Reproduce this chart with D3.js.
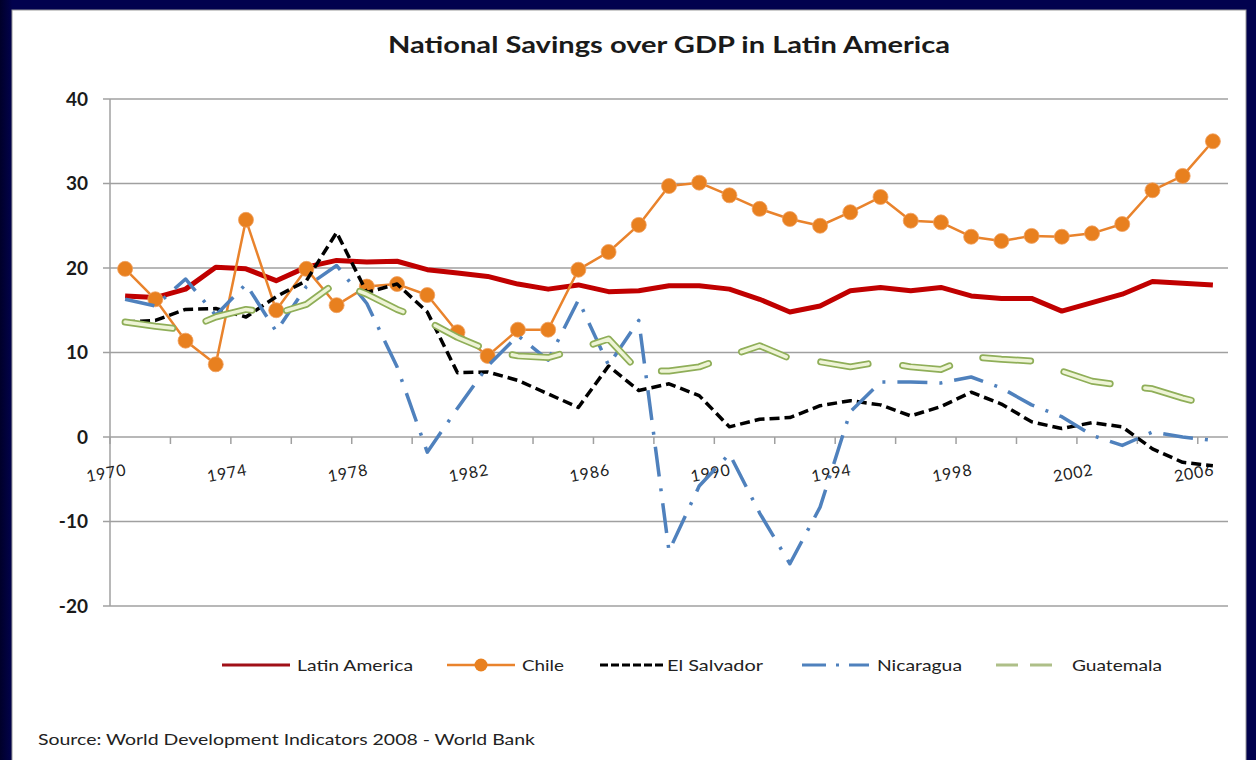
<!DOCTYPE html>
<html>
<head>
<meta charset="utf-8">
<script src="https://cdn.jsdelivr.net/npm/d3@7"></script>
<style>
  html, body { margin: 0; padding: 0; background: #02024e; }
  svg { display: block; }
</style>
</head>
<body>
<svg id="chart" width="1256" height="760"></svg>
<script>
const years = [1970,1971,1972,1973,1974,1975,1976,1977,1978,1979,1980,1981,1982,1983,1984,1985,1986,1987,1988,1989,1990,1991,1992,1993,1994,1995,1996,1997,1998,1999,2000,2001,2002,2003,2004,2005,2006];
const latinAmerica = [16.7,16.5,17.5,20.1,19.9,18.5,20.1,20.9,20.7,20.8,19.8,19.4,19.0,18.1,17.5,18.0,17.2,17.3,17.9,17.9,17.5,16.3,14.8,15.5,17.3,17.7,17.3,17.7,16.7,16.4,16.4,14.9,15.9,16.9,18.4,18.2,18.0];
const chile = [19.9,16.3,11.4,8.6,25.7,15.0,19.9,15.6,17.8,18.1,16.8,12.4,9.6,12.7,12.7,19.8,21.9,25.1,29.7,30.1,28.6,27.0,25.8,25.0,26.6,28.4,25.6,25.4,23.7,23.2,23.8,23.7,24.1,25.2,29.2,30.9,35.0];
const elSalvador = [13.6,13.8,15.1,15.2,14.2,16.6,18.5,24.2,17.1,18.1,14.8,7.6,7.7,6.7,5.1,3.5,8.4,5.5,6.3,4.9,1.2,2.1,2.3,3.7,4.3,3.8,2.5,3.6,5.3,3.9,1.8,1.0,1.7,1.2,-1.4,-3.0,-3.4];
const nicaragua = [16.3,15.5,18.7,14.4,18.1,12.5,17.8,20.3,15.8,8.3,-1.8,3.4,8.4,12.0,9.1,16.2,8.5,13.8,-13.5,-5.8,-2.0,-9.0,-15.0,-8.3,3.0,6.5,6.5,6.4,7.1,5.8,3.8,2.4,0.2,-1.0,0.6,0.0,-0.4];
const guatemala = [13.6,13.1,12.7,14.2,15.1,14.6,15.7,18.3,16.9,15.1,13.7,11.8,10.3,9.6,9.4,10.4,11.6,7.8,7.8,8.3,9.6,10.8,9.3,8.9,8.3,8.9,8.3,8.0,9.5,9.2,9.0,7.8,6.6,6.1,5.7,4.6,3.7];
const yTicks = [-20,-10,0,10,20,30,40];
const xLabels = [1970,1974,1978,1982,1986,1990,1994,1998,2002,2006];
const seriesNames = ["Latin America","Chile","El Salvador","Nicaragua","Guatemala"];
const titleText = "National Savings over GDP in Latin America";
const sourceText = "Source: World Development Indicators 2008 - World Bank";

(function () {
const FONT = "Lato, 'Open Sans', sans-serif";
const svg = d3.select("#chart");

// frame
const bg = svg.append("defs").append("linearGradient").attr("id","bg").attr("x1","0").attr("x2","1");
bg.append("stop").attr("offset","0").attr("stop-color","#00002a");
bg.append("stop").attr("offset","0.01").attr("stop-color","#02024e");
svg.append("rect").attr("width",1256).attr("height",760).attr("fill","url(#bg)");
svg.append("rect").attr("x",12).attr("y",10).attr("width",1234).attr("height",760)
  .attr("fill","#ffffff").attr("stroke","#9a9a9a").attr("stroke-width",1);

const pLeft = 110, pRight = 1228, pTop = 99, pBottom = 606;
const x = d3.scalePoint().domain(years).range([pLeft, pRight]).padding(0.5);
const y = d3.scaleLinear().domain([-20, 40]).range([pBottom, pTop]);
const step = x.step();

// gridlines
const g = svg.append("g");
g.selectAll("line.grid").data(yTicks).join("line")
  .attr("x1", pLeft - 7).attr("x2", pRight)
  .attr("y1", d => y(d)).attr("y2", d => y(d))
  .attr("stroke", "#a0a0a0").attr("stroke-width", 1.5);
g.append("line").attr("x1", pLeft).attr("x2", pLeft).attr("y1", pTop).attr("y2", pBottom)
  .attr("stroke", "#a0a0a0").attr("stroke-width", 1.5);

// y labels
g.selectAll("text.ylab").data(yTicks).join("text")
  .attr("x", 88).attr("y", d => y(d)).attr("dy", "0.36em")
  .attr("text-anchor", "end").attr("font-family", FONT).attr("font-weight", "bold")
  .attr("font-size", 19).attr("fill", "#1a1a1a").text(d => d);

// x tick marks every 2 categories at boundaries
const tickIdx = d3.range(0, years.length, 2);
g.selectAll("line.xt").data(tickIdx).join("line")
  .attr("x1", i => pLeft + i * step).attr("x2", i => pLeft + i * step)
  .attr("y1", y(0)).attr("y2", y(0) + 7)
  .attr("stroke", "#a0a0a0").attr("stroke-width", 1.5);

// x labels rotated
g.selectAll("text.xlab").data(xLabels).join("text")
  .attr("transform", d => `translate(${x(d) + 2},${y(0) + 38}) rotate(-10)`)
  .attr("text-anchor", "end").attr("font-family", FONT).attr("font-size", 16)
  .attr("letter-spacing", 0.8).attr("fill", "#222").text(d => d);

// lines
const line = d3.line().x((d, i) => x(years[i])).y(d => y(d));
const plot = svg.append("g").attr("fill", "none").attr("stroke-linejoin", "round");

plot.append("path").datum(latinAmerica).attr("d", line)
  .attr("stroke", "#c00000").attr("stroke-width", 5);

plot.append("path").datum(chile).attr("d", line)
  .attr("stroke", "#e9832c").attr("stroke-width", 2.5);
plot.selectAll("circle.chile").data(chile).join("circle")
  .attr("cx", (d, i) => x(years[i])).attr("cy", d => y(d)).attr("r", 7.5)
  .attr("fill", "#e8801f").attr("stroke", "#f0a060").attr("stroke-width", 0.8);

plot.append("path").datum(elSalvador).attr("d", line)
  .attr("stroke", "#000").attr("stroke-width", 3.5).attr("stroke-dasharray", "10,5");

plot.append("path").datum(nicaragua).attr("d", line)
  .attr("stroke", "#4f81bd").attr("stroke-width", 3.5).attr("stroke-dasharray", "30,12,3,12");

plot.append("path").datum(guatemala).attr("d", line)
  .attr("stroke", "#8fae58").attr("stroke-width", 7).attr("stroke-linecap", "round")
  .attr("stroke-dasharray", "48,35");
plot.append("path").datum(guatemala).attr("d", line)
  .attr("stroke", "#eef4d6").attr("stroke-width", 3.5).attr("stroke-linecap", "round")
  .attr("stroke-dasharray", "48,35");

// title
svg.append("text").attr("x", 669).attr("y", 53).attr("text-anchor", "middle")
  .attr("font-family", FONT).attr("font-weight", "bold").attr("font-size", 22)
  .attr("fill", "#1a1a1a").attr("textLength", 562).attr("lengthAdjust", "spacingAndGlyphs")
  .text(titleText);

// legend
const ly = 665;
const legendItems = [
  { name: seriesNames[0], x1: 222, x2: 290, tx: 297, tw: 116 },
  { name: seriesNames[1], x1: 447, x2: 515, tx: 522, tw: 42 },
  { name: seriesNames[2], x1: 600, x2: 665, tx: 667, tw: 96 },
  { name: seriesNames[3], x1: 802, x2: 869, tx: 877, tw: 85 },
  { name: seriesNames[4], x1: 996, x2: 1052, tx: 1072, tw: 90 }
];
const lg = svg.append("g");
const li = legendItems;
lg.append("line").attr("x1", li[0].x1).attr("x2", li[0].x2).attr("y1", ly).attr("y2", ly)
  .attr("stroke", "#a01018").attr("stroke-width", 3);
lg.append("line").attr("x1", li[1].x1).attr("x2", li[1].x2).attr("y1", ly).attr("y2", ly)
  .attr("stroke", "#e9832c").attr("stroke-width", 2.5);
lg.append("circle").attr("cx", (li[1].x1 + li[1].x2) / 2).attr("cy", ly).attr("r", 6.5).attr("fill", "#e8801f");
lg.append("line").attr("x1", li[2].x1).attr("x2", li[2].x2).attr("y1", ly).attr("y2", ly)
  .attr("stroke", "#000").attr("stroke-width", 3).attr("stroke-dasharray", "8,3");
lg.append("line").attr("x1", li[3].x1).attr("x2", li[3].x2).attr("y1", ly).attr("y2", ly)
  .attr("stroke", "#4f81bd").attr("stroke-width", 3).attr("stroke-dasharray", "24,10,3,10");
lg.append("line").attr("x1", li[4].x1).attr("x2", li[4].x2).attr("y1", ly).attr("y2", ly)
  .attr("stroke", "#aebf88").attr("stroke-width", 3).attr("stroke-dasharray", "22,12");
lg.selectAll("text").data(legendItems).join("text")
  .attr("x", d => d.tx).attr("y", ly).attr("dy", "0.35em")
  .attr("font-family", FONT).attr("font-size", 16).attr("fill", "#222")
  .attr("textLength", d => d.tw).attr("lengthAdjust", "spacingAndGlyphs")
  .text(d => d.name);

// source
svg.append("text").attr("x", 38).attr("y", 745)
  .attr("font-family", FONT).attr("font-size", 15).attr("fill", "#222")
  .attr("textLength", 497).attr("lengthAdjust", "spacingAndGlyphs")
  .text(sourceText);
})();
</script>
</body>
</html>
